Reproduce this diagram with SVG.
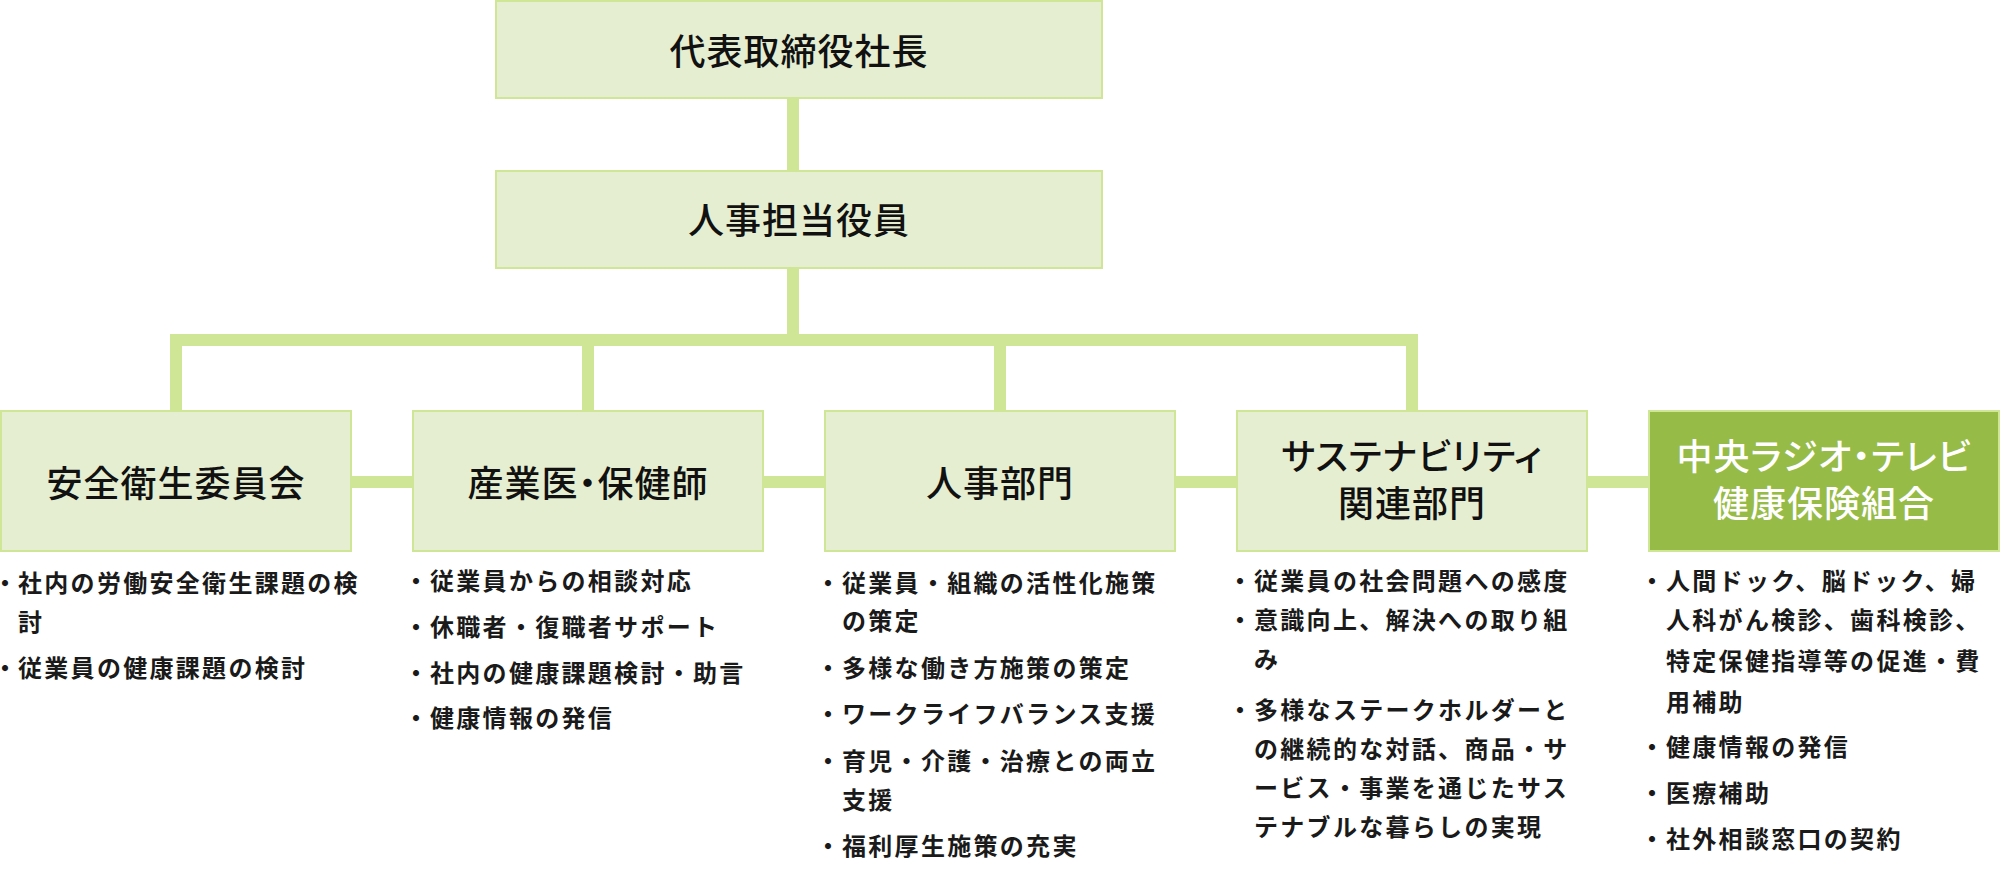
<svg xmlns="http://www.w3.org/2000/svg" width="2000" height="888" viewBox="0 0 2000 888">
<style>
.box{fill:#e5eed0;stroke:#cfe697;stroke-width:2}
.dark{fill:#97bb47;stroke:#cfe697;stroke-width:2}
.con{fill:#cfe697}
.t{font-family:"Noto Sans CJK JP","Noto Sans CJK SC",sans-serif;font-size:36px;font-weight:500;letter-spacing:1px;fill:#111;text-anchor:middle;font-feature-settings:"palt"}
.w{fill:#ffffff}
.b{font-family:"Noto Sans CJK JP","Noto Sans CJK SC",sans-serif;font-size:24px;font-weight:700;letter-spacing:2.3px;fill:#1a1a1a}
.d{font-family:"Noto Sans CJK JP","Noto Sans CJK SC",sans-serif;font-size:24px;font-weight:700;fill:#1a1a1a;text-anchor:middle;font-feature-settings:"palt"}
</style>
<rect width="2000" height="888" fill="#ffffff"/>
<g id="connectors">
<rect class="con" x="787" y="99" width="12" height="72"/>
<rect class="con" x="787" y="269" width="12" height="66"/>
<rect class="con" x="170" y="334" width="1248" height="12"/>
<rect class="con" x="170" y="346" width="12" height="65"/>
<rect class="con" x="582" y="346" width="12" height="65"/>
<rect class="con" x="994" y="346" width="12" height="65"/>
<rect class="con" x="1406" y="346" width="12" height="65"/>
<rect class="con" x="351" y="476" width="62" height="12"/>
<rect class="con" x="763" y="476" width="62" height="12"/>
<rect class="con" x="1175" y="476" width="62" height="12"/>
<rect class="con" x="1587" y="476" width="62" height="12"/>
</g>
<g id="president">
<rect class="box" x="496" y="1" width="606" height="97"/>
<text class="t" x="799" y="65">代表取締役社長</text>
</g>
<g id="hr-officer">
<rect class="box" x="496" y="171" width="606" height="97"/>
<text class="t" x="799" y="234">人事担当役員</text>
</g>
<g id="safety-committee">
<rect class="box" x="1" y="411" width="350" height="140"/>
<text class="t" x="176" y="497">安全衛生委員会</text>
<text class="d" x="5" y="591.5">・</text>
<text class="b" x="18" y="591.5">社内の労働安全衛生課題の検</text>
<text class="b" x="18" y="631">討</text>
<text class="d" x="5" y="676.5">・</text>
<text class="b" x="18" y="676.5">従業員の健康課題の検討</text>
</g>
<g id="occupational-health">
<rect class="box" x="413" y="411" width="350" height="140"/>
<text class="t" x="588" y="497">産業医・保健師</text>
<text class="d" x="416" y="590">・</text>
<text class="b" x="430" y="590">従業員からの相談対応</text>
<text class="d" x="416" y="636">・</text>
<text class="b" x="430" y="636">休職者・復職者サポート</text>
<text class="d" x="416" y="681.5">・</text>
<text class="b" x="430" y="681.5">社内の健康課題検討・助言</text>
<text class="d" x="416" y="727">・</text>
<text class="b" x="430" y="727">健康情報の発信</text>
</g>
<g id="hr-department">
<rect class="box" x="825" y="411" width="350" height="140"/>
<text class="t" x="1000" y="497">人事部門</text>
<text class="d" x="828" y="591.5">・</text>
<text class="b" x="842" y="591.5">従業員・組織の活性化施策</text>
<text class="b" x="842" y="630">の策定</text>
<text class="d" x="828" y="676.5">・</text>
<text class="b" x="842" y="676.5">多様な働き方施策の策定</text>
<text class="d" x="828" y="723">・</text>
<text class="b" x="842" y="723">ワークライフバランス支援</text>
<text class="d" x="828" y="769.5">・</text>
<text class="b" x="842" y="769.5">育児・介護・治療との両立</text>
<text class="b" x="842" y="808.5">支援</text>
<text class="d" x="828" y="854.5">・</text>
<text class="b" x="842" y="854.5">福利厚生施策の充実</text>
</g>
<g id="sustainability">
<rect class="box" x="1237" y="411" width="350" height="140"/>
<text class="t" x="1412" y="470">サステナビリティ</text>
<text class="t" x="1412" y="517">関連部門</text>
<text class="d" x="1240" y="590">・</text>
<text class="b" x="1254" y="590">従業員の社会問題への感度</text>
<text class="d" x="1240" y="628.5">・</text>
<text class="b" x="1254" y="628.5">意識向上、解決への取り組</text>
<text class="b" x="1254" y="668">み</text>
<text class="d" x="1240" y="718.5">・</text>
<text class="b" x="1254" y="718.5">多様なステークホルダーと</text>
<text class="b" x="1254" y="758">の継続的な対話、商品・サ</text>
<text class="b" x="1254" y="797">ービス・事業を通じたサス</text>
<text class="b" x="1254" y="836">テナブルな暮らしの実現</text>
</g>
<g id="health-insurance">
<rect class="dark" x="1649" y="411" width="350" height="140"/>
<text class="t w" x="1824" y="470">中央ラジオ・テレビ</text>
<text class="t w" x="1824" y="517">健康保険組合</text>
<text class="d" x="1652" y="590">・</text>
<text class="b" x="1666" y="590">人間ドック、脳ドック、婦</text>
<text class="b" x="1666" y="629">人科がん検診、歯科検診、</text>
<text class="b" x="1666" y="670">特定保健指導等の促進・費</text>
<text class="b" x="1666" y="710.5">用補助</text>
<text class="d" x="1652" y="756">・</text>
<text class="b" x="1666" y="756">健康情報の発信</text>
<text class="d" x="1652" y="801.5">・</text>
<text class="b" x="1666" y="801.5">医療補助</text>
<text class="d" x="1652" y="848">・</text>
<text class="b" x="1666" y="848">社外相談窓口の契約</text>
</g>
</svg>
